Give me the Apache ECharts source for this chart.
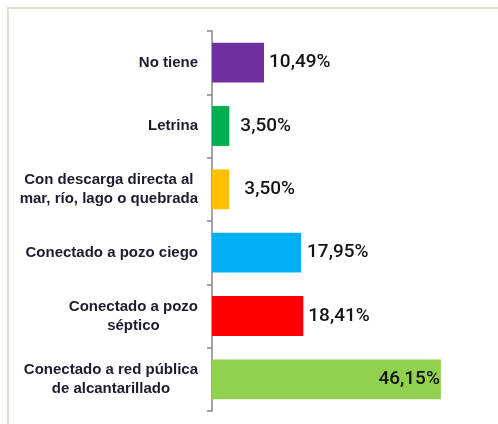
<!DOCTYPE html>
<html>
<head>
<meta charset="utf-8">
<script src="https://cdn.jsdelivr.net/npm/echarts@6/dist/echarts.min.js"></script>
<style>
  html, body { margin: 0; padding: 0; background: #fff; }
  #chart { width: 498px; height: 424px; }
</style>
</head>
<body>
<div id="chart"></div>
<script>
// categorias de arriba hacia abajo
var categorias = [
  "No tiene",
  "Letrina",
  "Con descarga directa al\nmar, río, lago o quebrada",
  "Conectado a pozo ciego",
  "Conectado a pozo\nséptico",
  "Conectado a red pública\nde alcantarillado"
];
var valores = [10.49, 3.50, 3.50, 17.95, 18.41, 46.15];
var colores = ["#7030a0", "#00b050", "#ffc000", "#00b0f0", "#ff0000", "#92d050"];

// separacion de la etiqueta de valor de cada barra
var distancias = [5, 11, 15, 6, 5, 1];

var chartDom = document.getElementById("chart");
var myChart = echarts.init(chartDom);

var option = {
  animation: false,
  graphic: [
    {
      type: "rect",
      shape: { x: 8, y: 8, width: 600, height: 500 },
      style: { fill: "none", stroke: "#e4e0cf", lineWidth: 2 },
      silent: true
    }
  ],
  grid: { left: 212, right: 38, top: 31, bottom: 13 },
  xAxis: {
    type: "value",
    min: 0,
    max: 50,
    show: false
  },
  yAxis: {
    type: "category",
    inverse: true,
    data: categorias,
    axisLine: { show: true, lineStyle: { color: "#868686", width: 1.5 } },
    axisTick: { show: true, length: 5, lineStyle: { color: "#868686", width: 1.5 } },
    axisLabel: {
      margin: 14,
      formatter: function (v) {
        return v.split("\n").map(function (l) { return "{c|" + l + "}"; }).join("\n");
      },
      rich: {
        c: {
          align: "center",
          fontFamily: "Liberation Sans, Arial, sans-serif",
          fontWeight: "bold",
          fontSize: 15,
          lineHeight: 19,
          color: "#1c1c2e"
        }
      }
    }
  },
  series: [
    {
      type: "bar",
      barCategoryGap: "37%",
      data: valores.map(function (v, i) {
        return {
          value: v,
          itemStyle: { color: colores[i] },
          label: {
            position: i === 5 ? "insideRight" : "right",
            distance: distancias[i]
          }
        };
      }),
      label: {
        show: true,
        fontFamily: "Roboto, sans-serif",
        fontWeight: 500,
        fontSize: 19,
        color: "#141414",
        formatter: function (p) {
          return p.value.toFixed(2).replace(".", ",") + "%";
        }
      }
    }
  ]
};

myChart.setOption(option);

window.addEventListener("resize", function () {
  myChart.resize();
});
</script>
</body>
</html>
